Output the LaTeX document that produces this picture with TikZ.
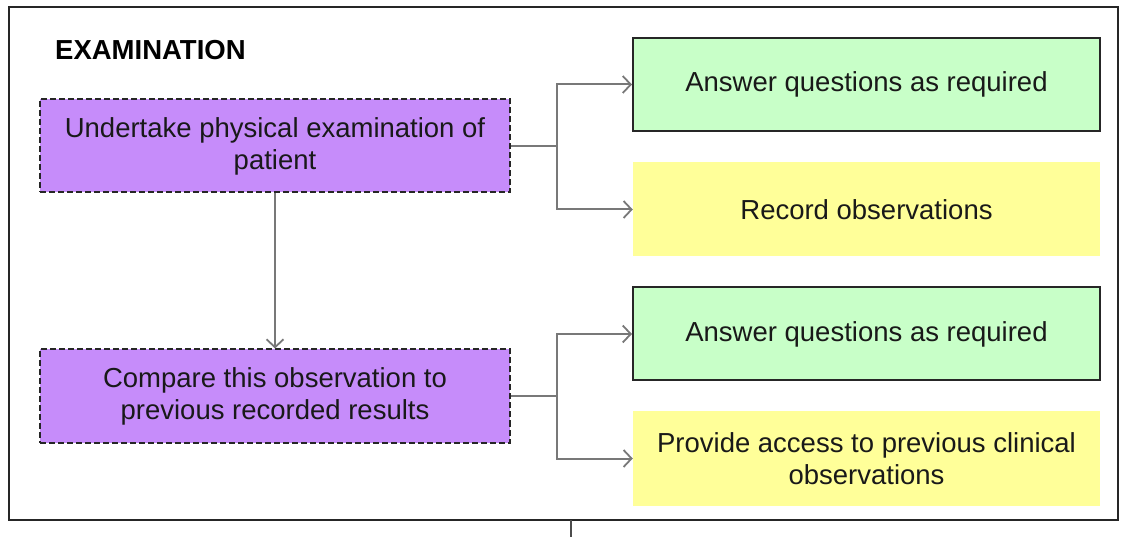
\documentclass[tikz,border=0pt]{standalone}
\usepackage{fontspec}
\setmainfont{Liberation Sans}
\usetikzlibrary{arrows.meta}
\definecolor{actpurple}{RGB}{198,140,250}
\definecolor{sysgreen}{RGB}{200,255,200}
\definecolor{sysyellow}{RGB}{255,255,153}
\definecolor{linkgray}{RGB}{120,120,120}
\begin{document}
\begin{tikzpicture}[x=1pt,y=-1pt,
  txt/.style={font=\fontsize{27.5}{32}\selectfont, align=center, text=black!90, inner sep=0pt},
  actor/.style={txt, fill=actpurple, draw=black!85, line width=2pt, dash pattern=on 6pt off 3pt,
                minimum width=470pt, minimum height=93pt},
  sysbox/.style={txt, fill=sysgreen, draw=black!85, line width=2pt, minimum width=467pt, minimum height=93pt},
  notebox/.style={txt, fill=sysyellow, minimum width=467pt, minimum height=94pt},
  link/.style={draw=linkgray, line width=2pt},
  arrow/.style={link, -{Straight Barb[length=8pt,width=17pt,line width=1.8pt]}}
]
\useasboundingbox (0,0) rectangle (1136,537);

% outer frame and its lead-out stub
\node[draw=black!85, line width=2pt, minimum width=1109pt, minimum height=513pt, inner sep=0pt]
  (frame) at (563.5,263.5) {};
\coordinate (stubtop) at (571,520);
\coordinate (stubend) at (571,537);
\draw[link, draw=black!70] (stubtop) -- (stubend);

% heading
\node[anchor=west, inner sep=0pt, font=\fontsize{27.5}{32}\selectfont\bfseries] (head) at (55,50) {EXAMINATION};

% actor steps
\node[actor] (p1) at (275,146) {Undertake physical examination of\\patient};
\node[actor] (p2) at (275,396) {Compare this observation to\\previous recorded results};

% system responses
\node[sysbox]  (g1) at (866.5,84.5)  {Answer questions as required};
\node[notebox] (y1) at (866.5,209.5) {Record observations};
\node[sysbox]  (g2) at (866.5,334)   {Answer questions as required};
\node[notebox] (y2) at (866.5,458.5) {Provide access to previous clinical\\observations};

% connectors
\draw[arrow] (p1.south) -- (p2.north);

\draw[link] (p1.east) -- ++(46,0) coordinate (j1);
\draw[arrow] (j1) |- (g1.west);
\draw[arrow] (j1) |- (y1.west);

\draw[link] (p2.east) -- ++(46,0) coordinate (j2);
\draw[arrow] (j2) |- (g2.west);
\draw[arrow] (j2) |- (y2.west);
\end{tikzpicture}
\end{document}
